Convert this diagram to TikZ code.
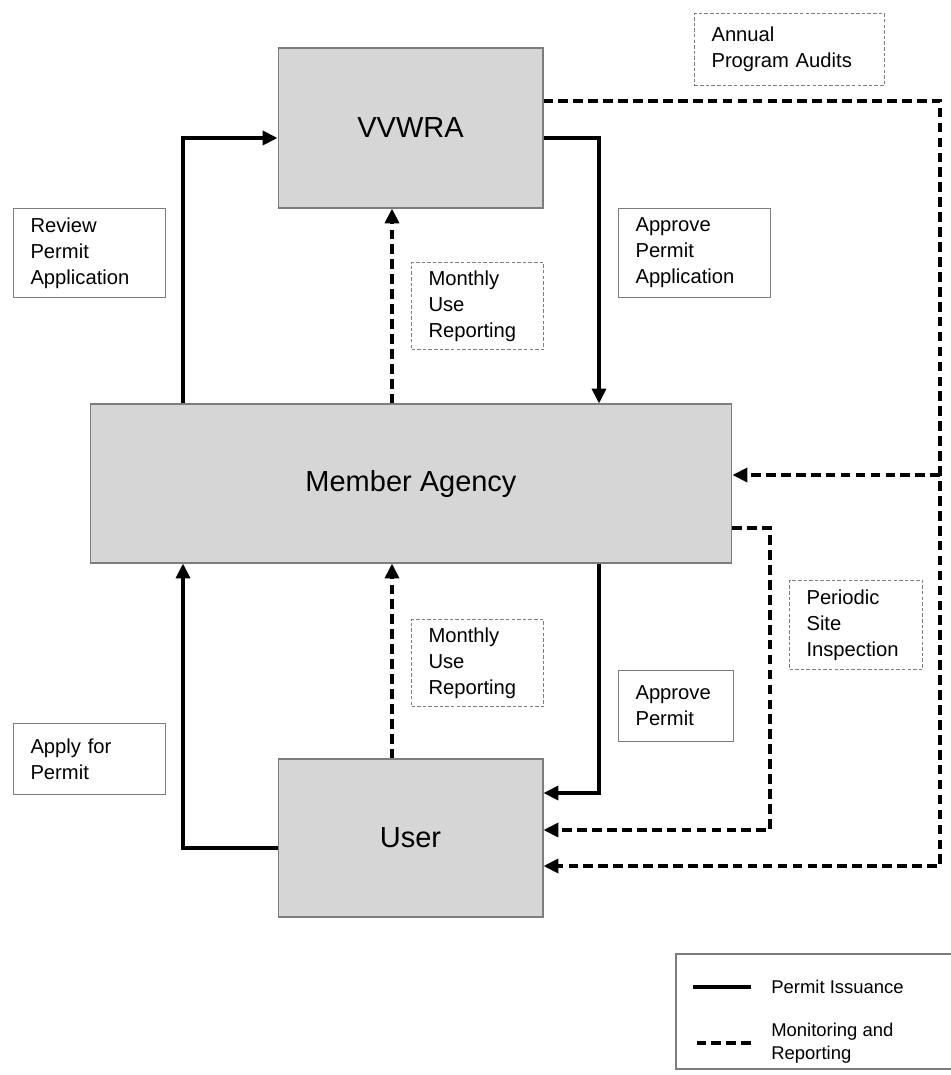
\documentclass[tikz,border=0pt]{standalone}
\usepackage{fontspec}
\setmainfont{Liberation Sans}
\usepackage{xcolor}
\usetikzlibrary{arrows.meta}
\definecolor{boxgrau}{RGB}{214,214,214}
\definecolor{randgrau}{RGB}{125,125,125}

\begin{document}
\begin{tikzpicture}[x=0.02cm, y=-0.02cm,
  akteur/.style={draw=randgrau, fill=boxgrau, line width=0.6pt, minimum width=5.3cm, font=\fontsize{16.5}{19}\selectfont},
  notiz/.style={draw=randgrau, line width=0.6pt, anchor=north west, align=left, inner xsep=0.34cm, inner ysep=0pt, font=\fontsize{11.5}{14.8}\selectfont},
  notizgestrichelt/.style={notiz, dash pattern=on 2pt off 1.2pt},
  ausgabe/.style={line width=2pt, -{Triangle[length=8.5pt,width=8pt]}},
  kontrolle/.style={ausgabe, dash pattern=on 5.5pt off 3pt}]
\useasboundingbox (0,0) rectangle (950,1075); % Bildgroesse in Pixeln des Originals
\node[akteur, minimum height=3.2cm] (vvwra) at (410.5,128) {VVWRA};
\node[akteur, minimum width=12.84cm, minimum height=3.18cm] (agentur) at (411,483.5) {Member Agency};
\node[akteur, minimum height=3.16cm] (nutzer) at (410.5,838) {User};

\coordinate (links) at (183,0);
\coordinate (rechts) at (599,0);
\coordinate (mitte) at (392,0);
\coordinate (audit) at (940,475);
\coordinate (inspektion) at (770,830);

% Genehmigungsweg (durchgezogen)
\draw[ausgabe] ([yshift=-0.2cm]nutzer.west) -| (links |- agentur.south);
\draw[ausgabe] (links |- agentur.north) |- ([yshift=-0.2cm]vvwra.west);
\draw[ausgabe] ([yshift=-0.2cm]vvwra.east) -| (rechts |- agentur.north);
\draw[ausgabe] (rechts |- agentur.south) |- ([yshift=0.9cm]nutzer.east);

% Ueberwachung und Berichte (gestrichelt)
\draw[kontrolle] (mitte |- agentur.north) -- (mitte |- vvwra.south);
\draw[kontrolle] (mitte |- nutzer.north) -- (mitte |- agentur.south);
\draw[kontrolle] ([yshift=0.54cm]vvwra.east) -| (audit) |- ([yshift=-0.56cm]nutzer.east);
\draw[kontrolle] (audit) -- (audit -| agentur.east);
\draw[kontrolle] ([yshift=-0.89cm]agentur.east) -| (inspektion) -- (inspektion -| nutzer.east);

\node[notiz, text width=2.36cm, minimum height=1.78cm] (pruefung) at (13,208) {Review\\Permit\\Application};
\node[notiz, text width=2.36cm, minimum height=1.78cm] (freigabe) at (618,208) {Approve\\Permit\\Application};
\node[notiz, text width=1.62cm, minimum height=1.42cm] (genehmigung) at (618,670) {Approve\\Permit};
\node[notiz, text width=2.36cm, minimum height=1.42cm] (antrag) at (13,723) {Apply for\\Permit};
\node[notizgestrichelt, text width=3.12cm, minimum height=1.44cm] (audits) at (694,13) {Annual\\Program Audits};
\node[notizgestrichelt, text width=1.96cm, minimum height=1.74cm] (berichtoben) at (411,262) {Monthly\\Use\\Reporting};
\node[notizgestrichelt, text width=1.96cm, minimum height=1.74cm] (berichtunten) at (411,619) {Monthly\\Use\\Reporting};
\node[notizgestrichelt, text width=1.98cm, minimum height=1.78cm] (begehung) at (789,580) {Periodic\\Site\\Inspection};

% Legende
\draw[draw=randgrau, line width=0.6pt] (676,954) rectangle (960,1069);
\node[anchor=west, inner sep=0pt, font=\fontsize{10.5}{13}\selectfont] (lgausgabe) at (771,987) {Permit Issuance};
\node[anchor=west, inner sep=0pt, align=left, font=\fontsize{10.5}{13}\selectfont] (lgkontrolle) at (771,1043) {Monitoring and\\Reporting};
\draw[line width=2pt] ([xshift=-0.4cm]lgausgabe.west) -- ++(-1.16cm,0);
\draw[line width=2pt, dash pattern=on 5.5pt off 3pt] ([xshift=-0.4cm]lgkontrolle.west) -- ++(-1.16cm,0);
\end{tikzpicture}
\end{document}
